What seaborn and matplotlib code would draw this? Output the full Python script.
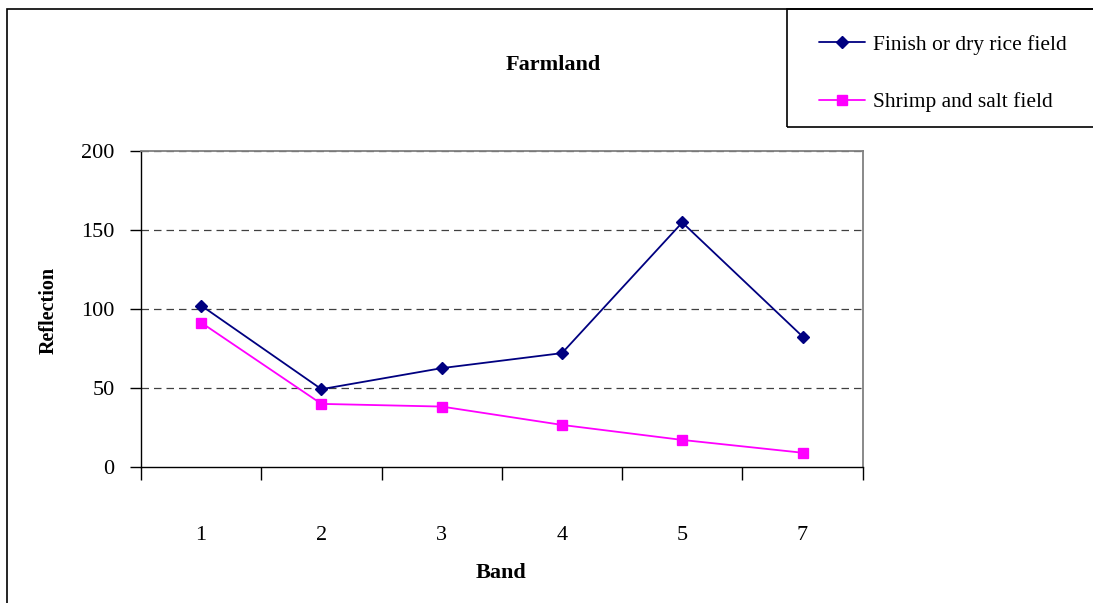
import matplotlib
matplotlib.use("Agg")
import matplotlib.pyplot as plt
from matplotlib.patches import Rectangle
from matplotlib.lines import Line2D
import seaborn as sns
import pandas as pd

bands = ["1", "2", "3", "4", "5", "7"]
rice = [102.3, 49.4, 62.7, 72.2, 154.8, 82.7]
shrimp = [91.5, 40.1, 38.4, 26.8, 17.3, 9.2]
series_names = ["Finish or dry rice field", "Shrimp and salt field"]
y_ticks = [0, 50, 100, 150, 200]

navy = "#000080"
magenta = "#FF00FF"

df = pd.DataFrame({
    "Band": bands * 2,
    "Reflection": rice + shrimp,
    "Series": [series_names[0]] * len(bands) + [series_names[1]] * len(bands),
})

sns.set_theme(style="white")
plt.rcParams["font.family"] = ["Liberation Serif", "DejaVu Serif"]
plt.rcParams["text.color"] = "black"

W, H = 1093, 603
fig = plt.figure(figsize=(W / 100, H / 100), dpi=100)
L, R, T, B = 141, 862.7, 151, 467.3
ax = fig.add_axes([L / W, 1 - B / H, (R - L) / W, (B - T) / H])

sns.pointplot(data=df, x="Band", y="Reflection", hue="Series", order=bands,
              hue_order=series_names, palette=[navy, magenta],
              markers=["D", "s"], linestyles=["-", "-"], errorbar=None,
              markersize=6.5, linewidth=1.3, ax=ax)
if ax.get_legend() is not None:
    ax.get_legend().remove()

FS = 16
ax.set_xlim(-0.5, len(bands) - 0.5)
ax.set_ylim(0, 200)
ax.set_yticks(y_ticks)
ax.set_xticks(range(len(bands)))
ax.set_xticklabels(bands)
ax.set_xticks([i - 0.5 for i in range(len(bands) + 1)], minor=True)
ax.tick_params(axis="x", which="major", length=0, pad=42, labelsize=FS, colors="black")
ax.tick_params(axis="x", which="minor", length=9, width=1, direction="out", color="black", bottom=True)
ax.tick_params(axis="y", length=8, width=1, direction="out", pad=11, labelsize=FS, colors="black", left=True)
ax.set_xlabel("")
ax.set_ylabel("")

for v in y_ticks[1:]:
    ax.axhline(v, color="#404040", lw=0.9, ls=(0, (6, 4)), zorder=0)

for s in ["left", "bottom"]:
    ax.spines[s].set_color("black")
    ax.spines[s].set_linewidth(1.0)
for s in ["top", "right"]:
    ax.spines[s].set_color("#808080")
    ax.spines[s].set_linewidth(1.3)

fig.text(553 / W, 1 - 65.5 / H, "Farmland", ha="center", va="center", fontsize=FS, fontweight="bold")
fig.text(49 / W, 1 - 310 / H, "Reflection", ha="center", va="center", rotation=90, fontsize=14.5, fontweight="bold")
fig.text(501 / W, 1 - 572.5 / H, "Band", ha="center", va="center", fontsize=FS, fontweight="bold")

# outer chart frame
fig.patches.append(Rectangle((7 / W, -0.1), 1.2, 1 - 9 / H + 0.1, transform=fig.transFigure,
                             fill=False, edgecolor="black", lw=1.2, zorder=0))
# legend frame
fig.patches.append(Rectangle((787 / W, 1 - 127 / H), 1.0, (127 - 9) / H, transform=fig.transFigure,
                             fill=False, edgecolor="black", lw=1.2, zorder=1))

handles = [
    Line2D([], [], color=navy, marker="D", markersize=6.5, lw=1.3),
    Line2D([], [], color=magenta, marker="s", markersize=6.5, lw=1.3),
]
fig.legend(handles, series_names, loc="center left", bbox_to_anchor=(808 / W, 1 - 73.5 / H),
           frameon=False, fontsize=15.5, handlelength=2.15, handletextpad=0.38,
           labelspacing=1.75, borderpad=0)

fig.savefig("out.png", dpi=100)
